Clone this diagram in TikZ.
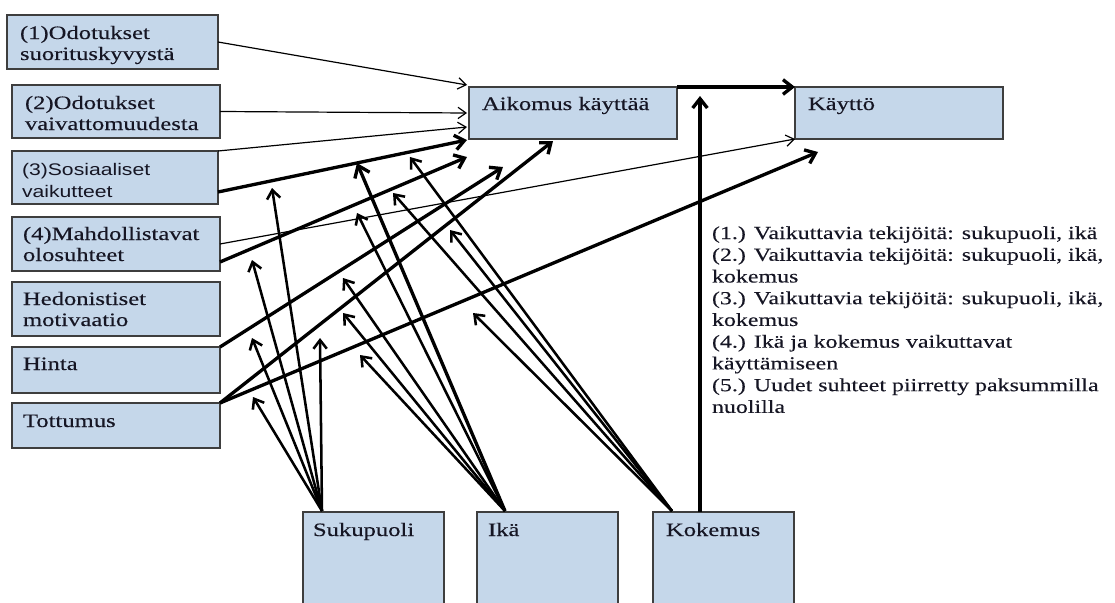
\documentclass[tikz,border=0pt]{standalone}
\usepackage{fontspec}
\setmainfont{Liberation Serif}[FakeStretch=1.3,FakeBold=0.25]
\setsansfont{Liberation Sans}[FakeStretch=1.26]
\usetikzlibrary{arrows.meta,calc}

\definecolor{boxfill}{RGB}{197,215,234}
\definecolor{boxline}{RGB}{62,62,62}
\definecolor{ink}{RGB}{22,22,36}

\begin{document}
\begin{tikzpicture}[x=0.75pt,y=-0.75pt,
  box/.style={draw=boxline, line width=1.2pt, fill=boxfill, anchor=north west,
    inner sep=0pt, outer sep=0pt},
  boxsize/.style 2 args={minimum width={#1*0.75pt}, minimum height={#2*0.75pt}},
  txt/.style={anchor=north west, inner sep=0pt, outer sep=0pt, align=left,
    text=ink, font=\fontsize{14.2}{15.75}\selectfont},
  sanstxt/.style={txt, font=\sffamily\fontsize{12.6}{16.5}\selectfont},
  notetxt/.style={txt, font=\fontsize{13.8}{16.3}\selectfont},
  thinarrow/.style={line width=0.9pt, -{Straight Barb[length=6pt,width=8.5pt]}},
  thickarrow/.style={line width=2.5pt, -{Straight Barb[length=7pt,width=11pt]}},
  modarrow/.style={line width=1.9pt, -{Straight Barb[length=6.5pt,width=10pt]}},
  bigmodarrow/.style={line width=2.5pt, -{Straight Barb[length=8pt,width=12pt]}},
]
\useasboundingbox (0,0) rectangle (1115,603);
\clip (0,0) rectangle (1115,603);

% determinants (left column)
\node[box, boxsize={211}{54}] (b1) at (7,15) {};
\node[box, boxsize={208}{53}] (b2) at (12,85) {};
\node[box, boxsize={206}{53}] (b3) at (12,151) {};
\node[box, boxsize={208}{54}] (b4) at (12,217) {};
\node[box, boxsize={208}{54}] (b5) at (12,282) {};
\node[box, boxsize={208}{46}] (b6) at (12,347) {};
\node[box, boxsize={208}{45}] (b7) at (12,403) {};

% intention and use
\node[box, boxsize={208}{52}] (aik) at (469,87) {};
\node[box, boxsize={208}{52}] (kay) at (795,87) {};

% moderators (cut by the lower edge)
\node[box, boxsize={141}{110}] (suk) at (303,512) {};
\node[box, boxsize={141}{110}] (ika) at (477,512) {};
\node[box, boxsize={141}{110}] (kok) at (653,512) {};

% box texts
\node[txt] (b1t) at (20,24.3) {\strut(1)Odotukset\\suorituskyvystä};
\node[txt] (b2t) at (25,94.3) {\strut(2)Odotukset\\vaivattomuudesta};
\node[sanstxt] (b3t) at (22,159.6) {\strut(3)Sosiaaliset\\vaikutteet};
\node[txt] (b4t) at (23,225.3) {\strut(4)Mahdollistavat\\olosuhteet};
\node[txt] (b5t) at (23,290.3) {\strut Hedonistiset\\motivaatio};
\node[txt] (b6t) at (23,355.3) {\strut Hinta};
\node[txt] (b7t) at (23,412.3) {\strut Tottumus};
\node[txt] (aikt) at (482,95.3) {\strut Aikomus käyttää};
\node[txt] (kayt) at (808,95.3) {\strut Käyttö};
\node[txt] (sukt) at (313,521.3) {\strut Sukupuoli};
\node[txt] (ikat) at (488,521.3) {\strut Ikä};
\node[txt] (kokt) at (666,521.3) {\strut Kokemus};

% explanation of the numbered relations
\node[notetxt] (note) at (712,223.8) {\strut(1.) Vaikuttavia tekijöitä: sukupuoli, ikä\\
(2.) Vaikuttavia tekijöitä: sukupuoli, ikä,\\
kokemus\\
(3.) Vaikuttavia tekijöitä: sukupuoli, ikä,\\
kokemus\\
(4.) Ikä ja kokemus vaikuttavat\\
käyttämiseen\\
(5.) Uudet suhteet piirretty paksummilla\\
nuolilla};

% original relations (thin)
\draw[thinarrow] (b1.east) -- ([shift={(-2,-2)}]aik.north west);
\draw[thinarrow] (b2.east) -- ([shift={(-2,0)}]aik.west);
\draw[thinarrow] (b3.north east) -- ([shift={(-2,-12)}]aik.south west);
\draw[thinarrow] (b4.east) -- (kay.south west);

% new relations (thick)
\draw[thickarrow] ([shift={(0,-12)}]b3.south east) -- ([shift={(-2,1)}]aik.south west);
\draw[thickarrow] ([shift={(0,-9)}]b4.south east) -- ([shift={(-2,18)}]aik.south west);
\draw[thickarrow] (b6.north east) -- ([shift={(34,28)}]aik.south west);
\draw[thickarrow] (b7.north east) -- ([shift={(-20,2)}]aik.south);
\draw[thickarrow] (b7.north east) -- ([shift={(23,13)}]kay.south west);
\draw[thickarrow] (aik.north east) -- (kay.north west);

% fan origins on the moderator boxes
\coordinate (sukfan) at ([shift={(19,-1)}]suk.north west);
\coordinate (ikafan) at ([shift={(28,-1)}]ika.north west);
\coordinate (kokfan) at ([shift={(19,-1)}]kok.north west);
\coordinate (kokbase) at ([shift={(47,0)}]kok.north west);
\coordinate (kokup) at (700,96);

% arrow tips on the moderated relations
\coordinate (tS1) at (253,397);
\coordinate (tS2) at (252,338);
\coordinate (tS3) at (252,260);
\coordinate (tS4) at (272,188);
\coordinate (tS5) at (320,338);
\coordinate (tI1) at (357,163);
\coordinate (tI2) at (357,213);
\coordinate (tI3) at (343,278);
\coordinate (tI4) at (343,313);
\coordinate (tI5) at (360,355);
\coordinate (tK1) at (410,157);
\coordinate (tK2) at (393,193);
\coordinate (tK3) at (450,230);
\coordinate (tK4) at (473,313);

% gender
\foreach \t in {tS1,tS2,tS3,tS4,tS5}
  \draw[modarrow] (sukfan) -- (\t);
% age
\draw[bigmodarrow] (ikafan) -- (tI1);
\foreach \t in {tI2,tI3,tI4,tI5}
  \draw[modarrow] (ikafan) -- (\t);
% experience
\foreach \t in {tK1,tK2,tK3,tK4}
  \draw[modarrow] (kokfan) -- (\t);
\draw[thickarrow] (kokbase) -- (kokup);
\end{tikzpicture}
\end{document}
